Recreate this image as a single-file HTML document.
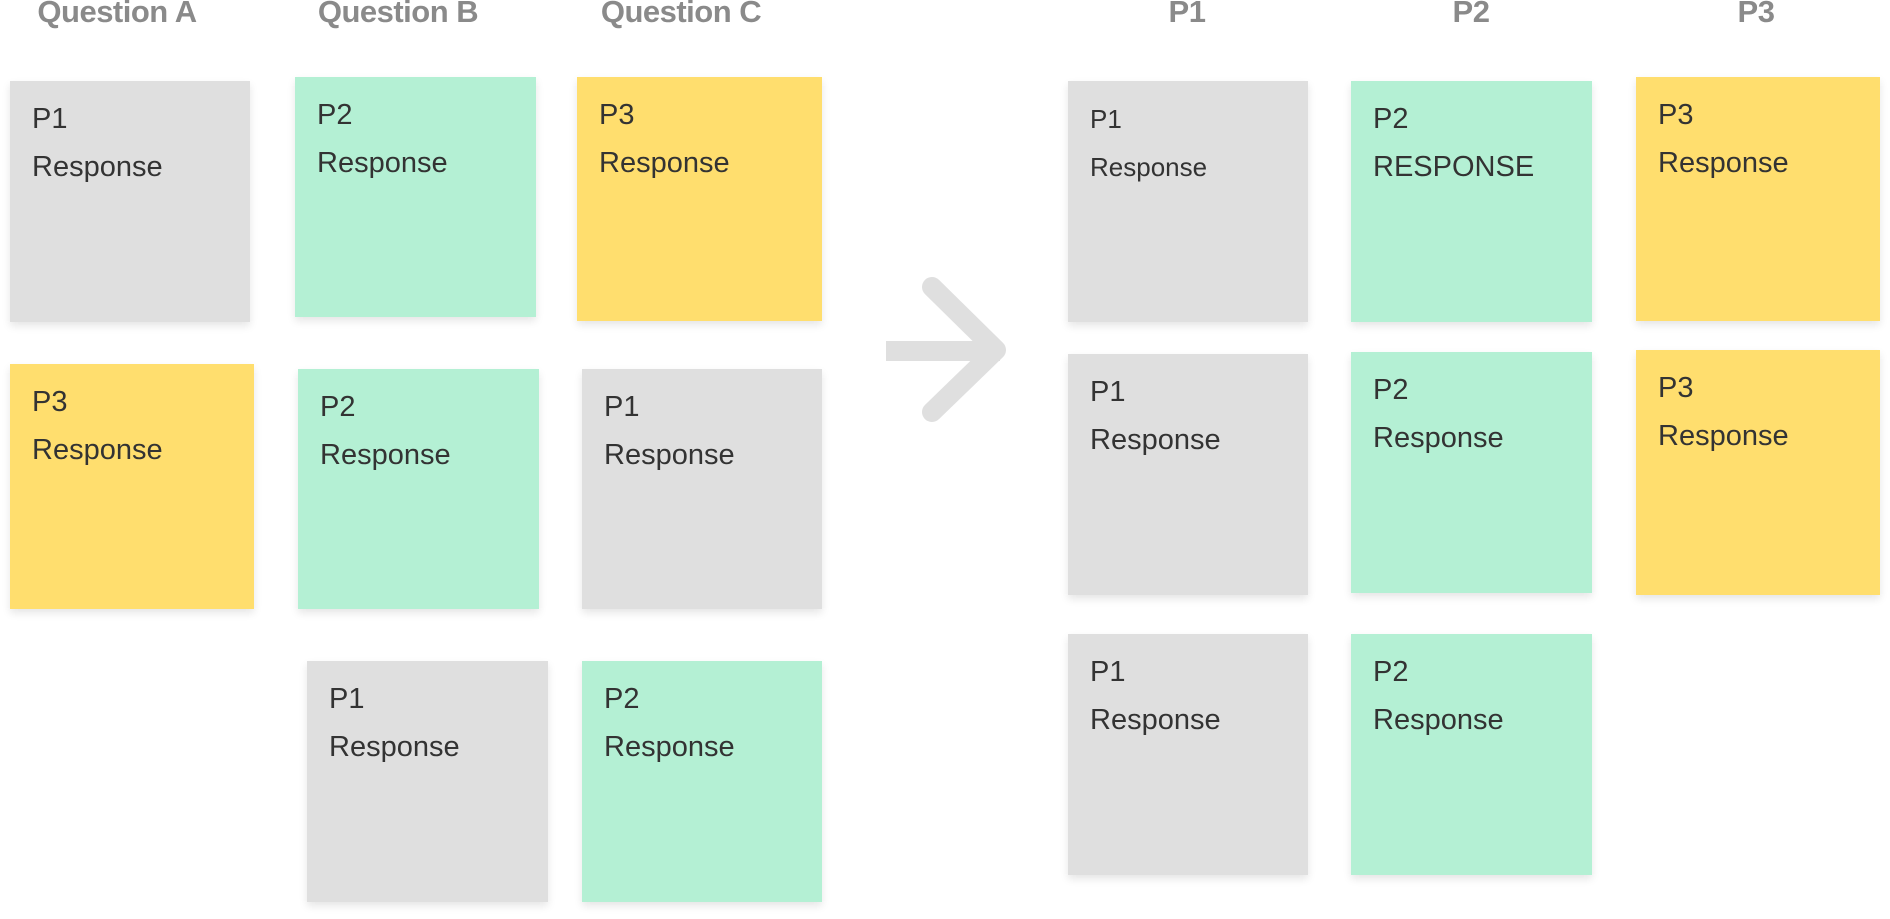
<!DOCTYPE html>
<html><head><meta charset="utf-8"><style>
html,body{margin:0;padding:0;background:#fff;width:1890px;height:919px;overflow:hidden;position:relative;font-family:"Liberation Sans",sans-serif}
.h{position:absolute;top:-6px;font-weight:bold;color:#8a8a8a;font-size:31px;transform:translateX(-50%);white-space:nowrap;letter-spacing:-0.5px}
.n{position:absolute;box-shadow:0 4px 8px rgba(0,0,0,0.10);color:#333;font-size:29px;line-height:48px;box-sizing:border-box;padding:14px 0 0 22px}
.g{background:#dfdfdf}.m{background:#b4f0d4}.y{background:#ffde6e}
</style></head><body>
<div class="h" style="left:117px">Question A</div>
<div class="h" style="left:398px">Question B</div>
<div class="h" style="left:681px">Question C</div>
<div class="h" style="left:1187px">P1</div>
<div class="h" style="left:1471px">P2</div>
<div class="h" style="left:1756px">P3</div>

<div class="n g" style="left:10px;top:81px;width:240px;height:241px">P1<br>Response</div>
<div class="n y" style="left:10px;top:364px;width:244px;height:245px">P3<br>Response</div>
<div class="n m" style="left:295px;top:77px;width:241px;height:240px">P2<br>Response</div>
<div class="n m" style="left:298px;top:369px;width:241px;height:240px">P2<br>Response</div>
<div class="n g" style="left:307px;top:661px;width:241px;height:241px">P1<br>Response</div>
<div class="n y" style="left:577px;top:77px;width:245px;height:244px">P3<br>Response</div>
<div class="n g" style="left:582px;top:369px;width:240px;height:240px">P1<br>Response</div>
<div class="n m" style="left:582px;top:661px;width:240px;height:241px">P2<br>Response</div>

<div class="n g" style="left:1068px;top:81px;width:240px;height:241px;font-size:26px">P1<br>Response</div>
<div class="n g" style="left:1068px;top:354px;width:240px;height:241px">P1<br>Response</div>
<div class="n g" style="left:1068px;top:634px;width:240px;height:241px">P1<br>Response</div>
<div class="n m" style="left:1351px;top:81px;width:241px;height:241px">P2<br>RESPONSE</div>
<div class="n m" style="left:1351px;top:352px;width:241px;height:241px">P2<br>Response</div>
<div class="n m" style="left:1351px;top:634px;width:241px;height:241px">P2<br>Response</div>
<div class="n y" style="left:1636px;top:77px;width:244px;height:244px">P3<br>Response</div>
<div class="n y" style="left:1636px;top:350px;width:244px;height:245px">P3<br>Response</div>

<svg style="position:absolute;left:0;top:0" width="1890" height="919">
<line x1="886" y1="351" x2="1000" y2="351" stroke="#dfdfdf" stroke-width="20"/>
<polyline points="932,287 996,350 932,412" fill="none" stroke="#dfdfdf" stroke-width="20" stroke-linecap="round" stroke-linejoin="round"/>
</svg>
</body></html>
